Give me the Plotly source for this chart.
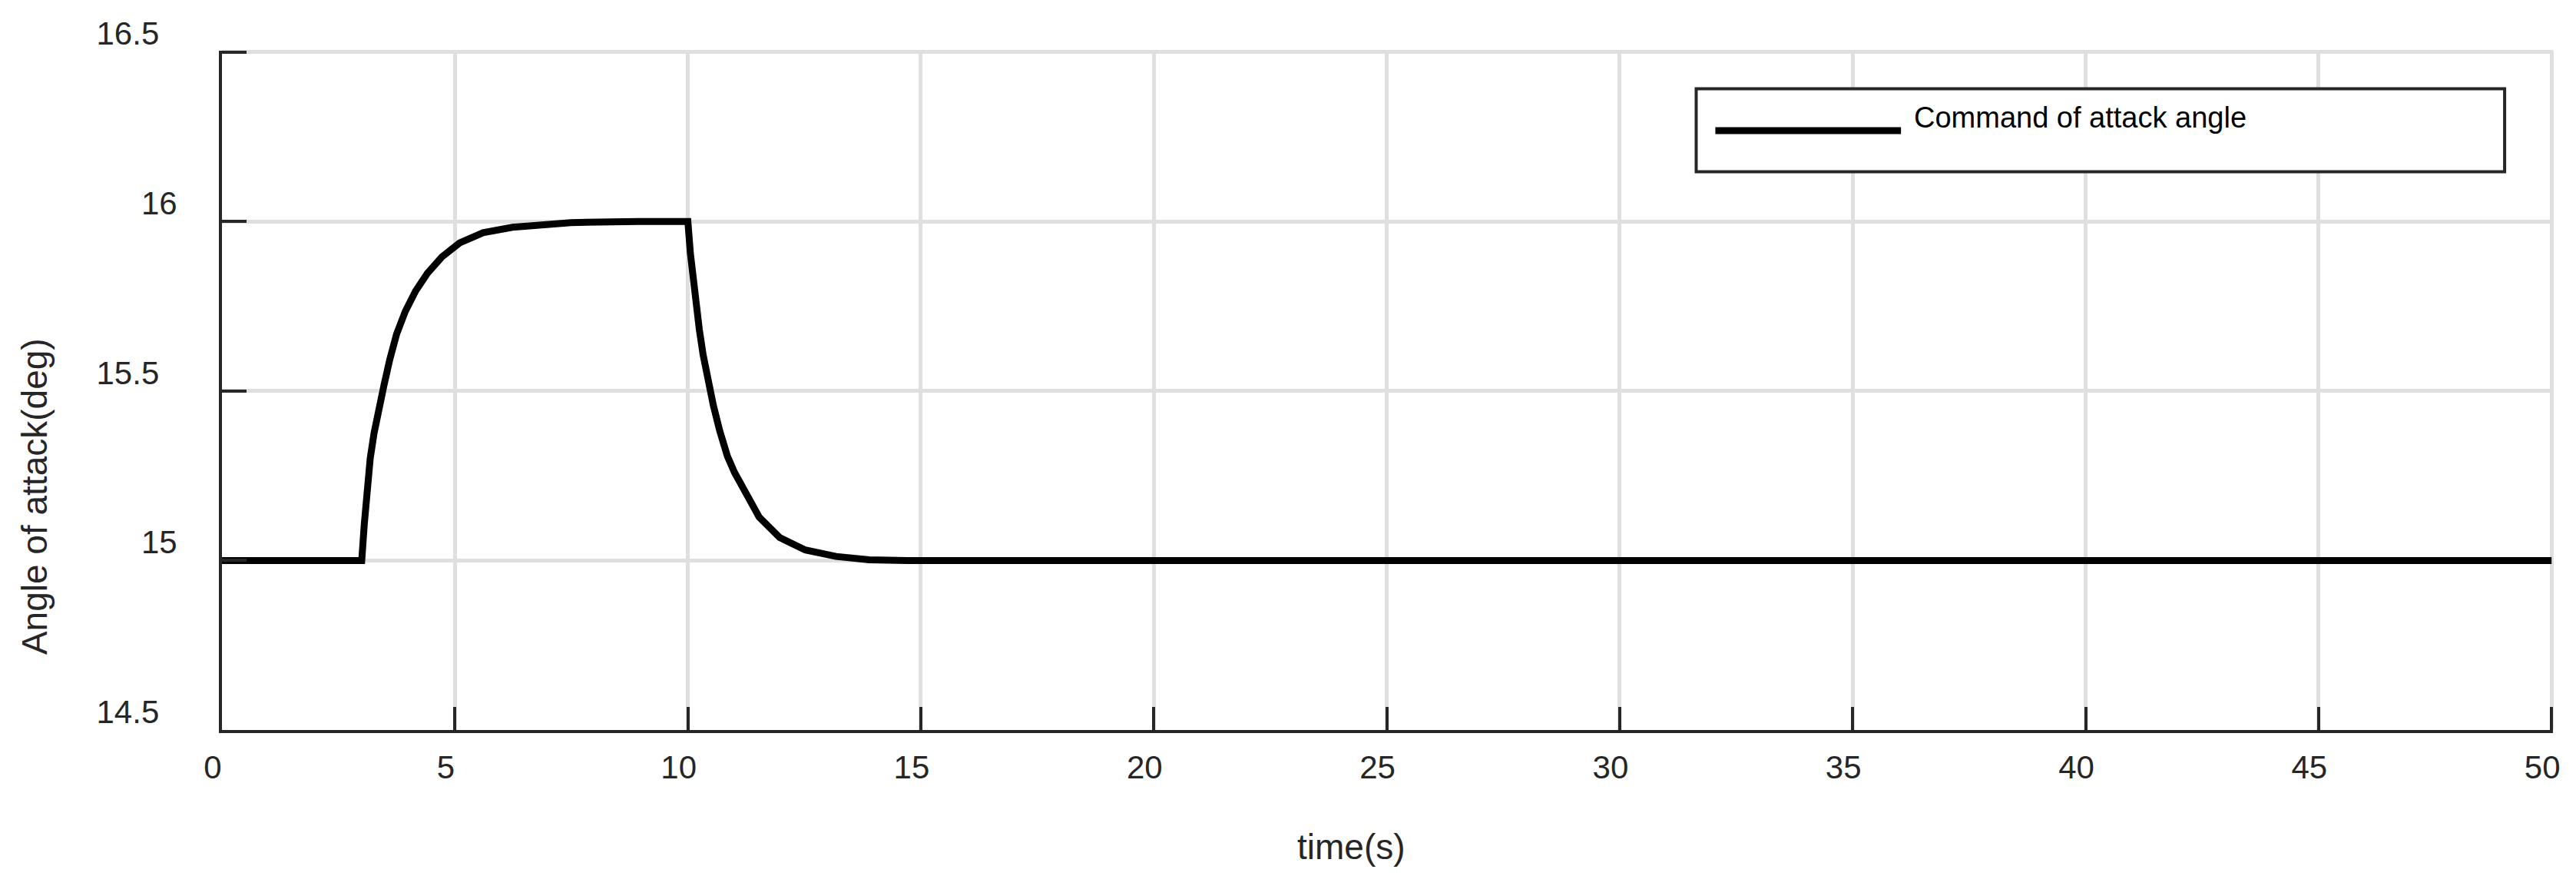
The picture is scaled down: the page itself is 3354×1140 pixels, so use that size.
import plotly.graph_objects as go

# ---- data ----
time_s = [0.00, 2.95, 3.00, 3.054, 3.118, 3.181, 3.263, 3.356, 3.477, 3.602, 3.746, 3.935,
          4.156, 4.408, 4.722, 5.100, 5.604, 6.234, 6.989, 7.49, 8.94, 10.00,
          10.053, 10.107, 10.173, 10.245, 10.327, 10.426, 10.546, 10.683, 10.848, 11.00,
          11.20, 11.53, 11.97, 12.52, 13.18, 13.89, 14.70, 50.00]
attack_cmd = [15.000, 15.000, 15.000, 15.106, 15.218, 15.300, 15.375, 15.443, 15.517, 15.593,
              15.667, 15.735, 15.795, 15.847, 15.896, 15.937, 15.967, 15.983, 15.993, 15.997,
              16.000, 16.000,
              15.907, 15.832, 15.757, 15.682, 15.607, 15.533, 15.458, 15.383, 15.308, 15.260,
              15.210, 15.128, 15.068, 15.031, 15.012, 15.002, 15.000, 15.000]

x_ticks = [0, 5, 10, 15, 20, 25, 30, 35, 40, 45, 50]
y_ticks = [14.5, 15, 15.5, 16, 16.5]
y_tick_labels = ["14.5\u00a0\u00a0", "15", "15.5\u00a0\u00a0", "16", "16.5\u00a0\u00a0"]
series_name = "Command of attack angle"
x_title = "time(s)"
y_title = "Angle of attack(deg)"

# ---- figure geometry (page offset of 8 px from the default body margin) ----
OFF = 8
W, H = 3354 - 2 * OFF, 1140 - 2 * OFF
L, T = 289 - OFF, 58 - OFF
R = W - (3328 - OFF)
B = H - (950 - OFF)
pw, ph = W - L - R, H - T - B


def px(xpage):
    return (xpage - OFF - L) / pw


def py(ypage):
    return (H - B - (ypage - OFF)) / ph


AX = "#262626"
GRID = "#dfdfdf"
FONT = "Liberation Sans, Arial, sans-serif"

fig = go.Figure()
fig.add_trace(go.Scatter(x=time_s, y=attack_cmd, mode="lines", name=series_name,
                         line=dict(color="black", width=9), showlegend=False))

fig.update_layout(
    width=W, height=H,
    margin=dict(l=L, r=R, t=T, b=B),
    paper_bgcolor="white", plot_bgcolor="white",
    font=dict(family=FONT, color=AX),
    showlegend=False,
)

fig.update_xaxes(
    range=[0, 50.03], tickmode="array", tickvals=x_ticks, ticktext=[str(v) for v in x_ticks],
    ticks="inside", ticklen=30, tickwidth=4, tickcolor=AX,
    showline=True, linecolor=AX, linewidth=4, mirror=False,
    showgrid=True, gridcolor=GRID, gridwidth=4.5, zeroline=False,
    tickfont=dict(size=42, color=AX, family=FONT),
    ticklabelshift=-12, ticklabelstandoff=9,
)
fig.update_yaxes(
    range=[14.5, 16.504], tickmode="array", tickvals=y_ticks, ticktext=y_tick_labels,
    ticks="inside", ticklen=32, tickwidth=4, tickcolor=AX,
    showline=True, linecolor=AX, linewidth=4, mirror=False,
    showgrid=True, gridcolor=GRID, gridwidth=4.5, zeroline=False,
    tickfont=dict(size=42, color=AX, family=FONT),
    ticklabelshift=-24, ticklabelstandoff=46,
)

# axis titles
fig.add_annotation(text=x_title, xref="paper", yref="paper", x=px(1761), y=py(1103),
                   xanchor="center", yanchor="middle", showarrow=False,
                   font=dict(size=46, color=AX, family=FONT))
fig.add_annotation(text=y_title, xref="paper", yref="paper", x=px(44), y=py(643),
                   xanchor="center", yanchor="middle", showarrow=False, textangle=-90,
                   font=dict(size=46, color=AX, family=FONT))

# legend box (drawn to match the reference's wide legend)
fig.add_shape(type="rect", xref="paper", yref="paper",
              x0=px(2211), x1=px(3265), y0=py(217), y1=py(108),
              line=dict(color=AX, width=4), fillcolor="white", layer="above")
fig.add_shape(type="line", xref="paper", yref="paper",
              x0=px(2236), x1=px(2478), y0=py(163), y1=py(163),
              line=dict(color="black", width=9), layer="above")
fig.add_annotation(text=series_name, xref="paper", yref="paper", x=px(2493), y=py(146),
                   xanchor="left", yanchor="middle", showarrow=False,
                   font=dict(size=38, color="black", family=FONT))

fig.write_html("out.html")
